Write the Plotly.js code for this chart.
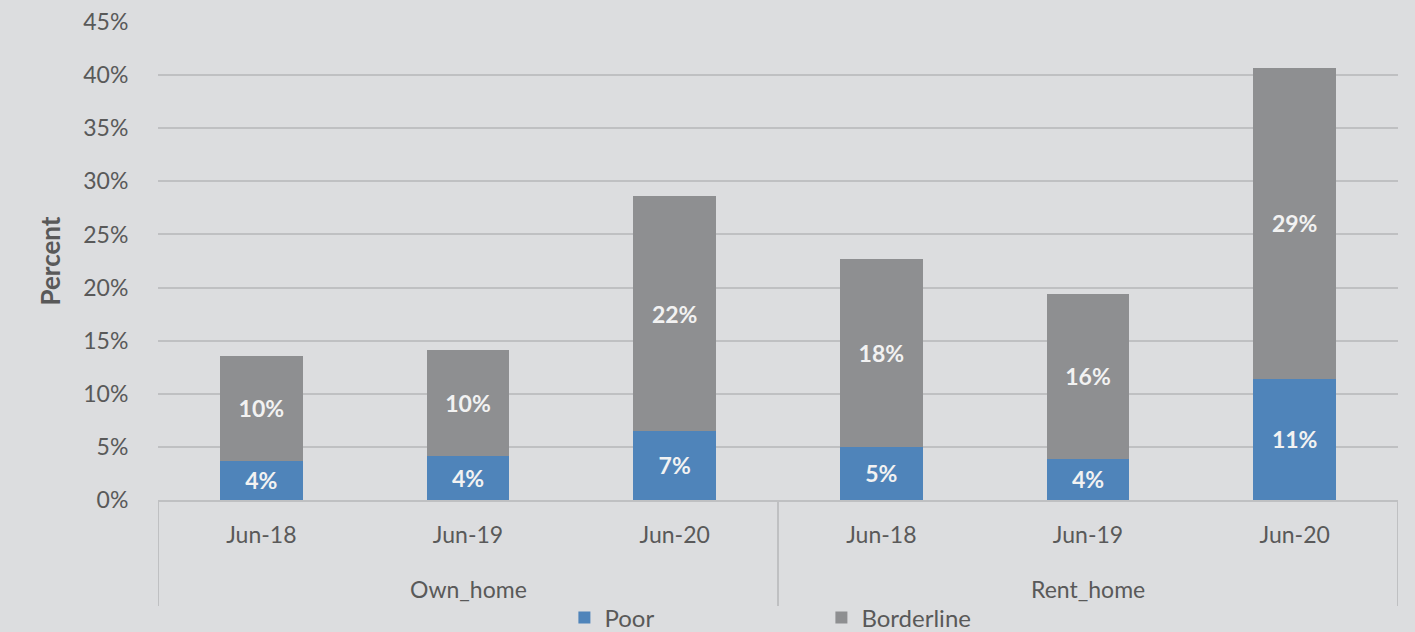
<!DOCTYPE html>
<html>
<head>
<meta charset="utf-8">
<script src="https://cdn.plot.ly/plotly-3.0.1.min.js"></script>
<style>
  html, body { margin: 0; padding: 0; background: #dcdddf; }
  #chart { width: 1415px; height: 632px; }
</style>
</head>
<body>
<div id="chart"></div>
<script>
const groups = ['Own_home', 'Own_home', 'Own_home', 'Rent_home', 'Rent_home', 'Rent_home'];
const periods = ['Jun-18', 'Jun-19', 'Jun-20', 'Jun-18', 'Jun-19', 'Jun-20'];
const poor = [0.037, 0.041, 0.065, 0.050, 0.039, 0.114];
const borderline = [0.099, 0.100, 0.221, 0.177, 0.155, 0.293];

const font = 'Lato, "Liberation Sans", sans-serif';
const grey = '#595959';
const lineColor = '#bfc0c2';
const labelFont = { family: font, size: 23, color: '#f2f2f2', weight: 'bold' };

// unique category keys, one per bar
const keys = groups.map((g, i) => g + ' ' + periods[i]);

function barTrace(name, values, color) {
    return {
        x: keys,
        y: values,
        name: name,
        type: 'bar',
        marker: { color: color },
        texttemplate: '%{y:.0%}',
        textposition: 'inside',
        insidetextanchor: 'middle',
        textangle: 0,
        constraintext: 'none',
        textfont: labelFont
    };
}

const traces = [
    barTrace('Poor', poor, '#4f84ba'),
    barTrace('Borderline', borderline, '#8e8f91')
];

// group labels and divider lines for the two-level category axis
const groupNames = [...new Set(groups)];
const annotations = groupNames.map(g => {
    const idx = groups.map((v, i) => v === g ? i : -1).filter(i => i >= 0);
    return {
        x: (idx[0] + idx[idx.length - 1]) / 2,
        xref: 'x',
        y: -0.186,
        yref: 'paper',
        text: g,
        showarrow: false,
        yanchor: 'middle',
        font: { family: font, size: 23, color: grey }
    };
});

const bounds = [-0.5];
groups.forEach((g, i) => {
    if (i === groups.length - 1 || groups[i + 1] !== g) bounds.push(i + 0.5);
});
const shapes = bounds.map(b => ({
    type: 'line',
    xref: 'x',
    yref: 'paper',
    x0: b, x1: b,
    y0: 0, y1: -0.222,
    line: { color: lineColor, width: 2 }
}));

const layout = {
    barmode: 'stack',
    bargap: 0.6,
    width: 1415,
    height: 632,
    margin: { l: 158, r: 17, t: 22, b: 132, autoexpand: false },
    paper_bgcolor: '#dcdddf',
    plot_bgcolor: '#dcdddf',
    font: { family: font, color: grey },
    xaxis: {
        type: 'category',
        tickvals: keys,
        ticktext: periods,
        tickfont: { family: font, size: 23, color: grey },
        ticklabelstandoff: 13,
        showline: true,
        linecolor: lineColor,
        linewidth: 2,
        ticks: '',
        showgrid: false,
        automargin: false,
        range: [-0.5, keys.length - 0.5]
    },
    yaxis: {
        range: [0, 0.45],
        dtick: 0.05,
        tickformat: '.0%',
        gridcolor: lineColor,
        gridwidth: 2,
        zeroline: false,
        showline: false,
        ticks: 'outside',
        ticklen: 24,
        tickcolor: 'rgba(0,0,0,0)',
        tickfont: { family: font, size: 23, color: grey },
        automargin: false,
        title: {
            text: 'Percent',
            font: { family: font, size: 26, color: grey, weight: 'bold' },
            standoff: 15
        }
    },
    annotations: annotations,
    shapes: shapes,
    showlegend: true,
    legend: {
        orientation: 'h',
        x: 0.535,
        xanchor: 'center',
        xref: 'paper',
        y: 0.058,
        yref: 'container',
        yanchor: 'top',
        entrywidth: 212,
        entrywidthmode: 'pixels',
        bgcolor: 'rgba(0,0,0,0)',
        font: { family: font, size: 24, color: grey },
        traceorder: 'normal'
    }
};

Plotly.newPlot('chart', traces, layout, { displayModeBar: false, staticPlot: true });
</script>
</body>
</html>
